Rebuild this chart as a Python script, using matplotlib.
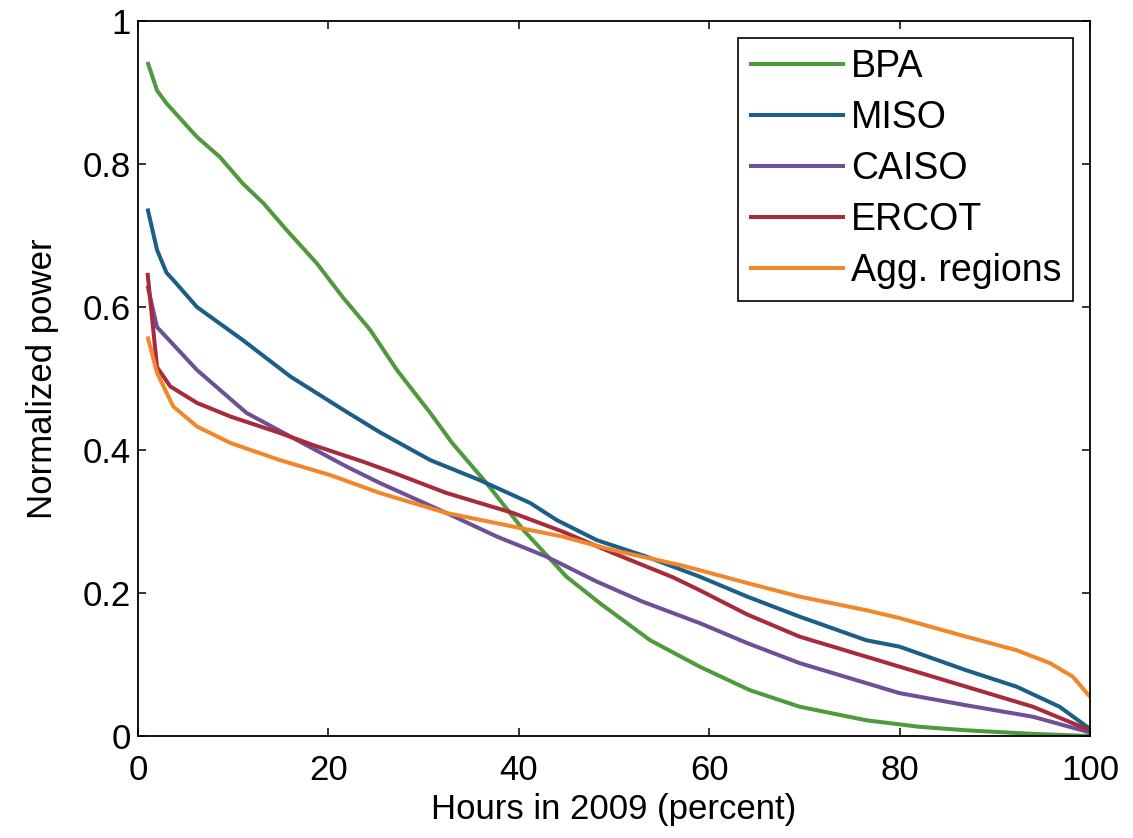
import matplotlib
matplotlib.use("Agg")
import matplotlib.pyplot as plt

plt.rcParams["font.family"] = ["Liberation Sans", "DejaVu Sans"]

# ---------- данные ----------
bpa_x = [1, 2, 3, 6.2, 8.6, 11, 13.2, 15.6, 18.8, 21.5, 24.4, 27.2, 30.7, 33, 36.6,
         40.5, 45, 48.5, 53.8, 59, 64.3, 69.5, 76.5, 82, 87, 94, 100]
bpa_y = [0.943, 0.903, 0.885, 0.838, 0.81, 0.773, 0.745, 0.708, 0.661, 0.614, 0.568,
         0.512, 0.452, 0.41, 0.354, 0.288, 0.223, 0.186, 0.134, 0.097, 0.064, 0.041,
         0.022, 0.013, 0.008, 0.003, 0.0]

miso_x = [1, 2, 3, 3.7, 6.2, 11, 16, 21.6, 25.4, 30.7, 35.9, 41.2, 44, 48.2, 53.4,
          59, 64, 69.5, 76.5, 80, 87, 92.3, 96.8, 100]
miso_y = [0.738, 0.68, 0.648, 0.638, 0.6, 0.554, 0.503, 0.456, 0.425, 0.386, 0.358,
          0.326, 0.302, 0.274, 0.251, 0.223, 0.195, 0.167, 0.134, 0.125, 0.092, 0.069,
          0.041, 0.01]

caiso_x = [1, 2, 6.2, 11.4, 16.7, 21.9, 25.4, 32.4, 37.7, 42.9, 48.2, 53, 59, 64,
           69.5, 76.5, 80, 87, 94, 100]
caiso_y = [0.63, 0.572, 0.512, 0.452, 0.414, 0.377, 0.354, 0.312, 0.279, 0.251,
           0.216, 0.188, 0.158, 0.13, 0.102, 0.074, 0.06, 0.043, 0.027, 0.005]

ercot_x = [1, 2, 3.4, 6.2, 9.7, 14.9, 18.4, 23.6, 26.5, 32.4, 39.4, 44.6, 49.9, 56.2,
           59, 64, 69.5, 76.5, 80, 87, 94, 100]
ercot_y = [0.648, 0.516, 0.489, 0.466, 0.447, 0.424, 0.407, 0.384, 0.37, 0.34, 0.312,
           0.286, 0.256, 0.222, 0.204, 0.17, 0.139, 0.111, 0.097, 0.069, 0.041, 0.008]

agg_x = [1, 2, 3.7, 6.2, 9.7, 14.9, 20.2, 25.4, 32.4, 39.4, 44.6, 49.9, 57, 59, 64,
         69.5, 76.5, 80, 87, 92.3, 95.8, 98.2, 100]
agg_y = [0.559, 0.508, 0.461, 0.433, 0.41, 0.386, 0.365, 0.34, 0.312, 0.293, 0.279,
         0.26, 0.239, 0.232, 0.214, 0.195, 0.176, 0.165, 0.139, 0.12, 0.102, 0.083, 0.055]

series = [
    ("BPA", bpa_x, bpa_y, "#4e9a3d"),
    ("MISO", miso_x, miso_y, "#1b5e87"),
    ("CAISO", caiso_x, caiso_y, "#6d5096"),
    ("ERCOT", ercot_x, ercot_y, "#a82b3b"),
    ("Agg. regions", agg_x, agg_y, "#f2862b"),
]

x_ticks = [0, 20, 40, 60, 80, 100]
y_ticks = [0, 0.2, 0.4, 0.6, 0.8, 1]
y_tick_labels = ["0", "0.2", "0.4", "0.6", "0.8", "1"]

# ---------- фигура ----------
fig = plt.figure(figsize=(11.33, 8.38), dpi=100)
ax = fig.add_axes([0.1218, 0.1217, 0.8402, 0.853])

for name, xs, ys, col in series:
    ax.plot(xs, ys, color=col, lw=2.9, label=name, solid_capstyle="butt",
            solid_joinstyle="round")

ax.set_xlim(0, 100)
ax.set_ylim(0, 1)
ax.set_xticks(x_ticks)
ax.set_yticks(y_ticks)
ax.set_yticklabels(y_tick_labels)
ax.tick_params(direction="in", length=6, width=1.1, top=True, right=True,
               labelsize=25)
ax.tick_params(axis="x", pad=13)
ax.tick_params(axis="y", pad=5)
for s in ax.spines.values():
    s.set_linewidth(1.3)

ax.set_xlabel("Hours in 2009 (percent)", fontsize=25, labelpad=4)
ax.set_ylabel("Normalized power", fontsize=25, labelpad=17)

leg = ax.legend(loc="upper right", fontsize=27, frameon=True, fancybox=False,
                edgecolor="black", framealpha=1, handlelength=2.55,
                handletextpad=0.18, labelspacing=0.4, borderpad=0.3,
                borderaxespad=0.45)
leg.get_frame().set_linewidth(1.2)

fig.savefig("out.png", dpi=100)
